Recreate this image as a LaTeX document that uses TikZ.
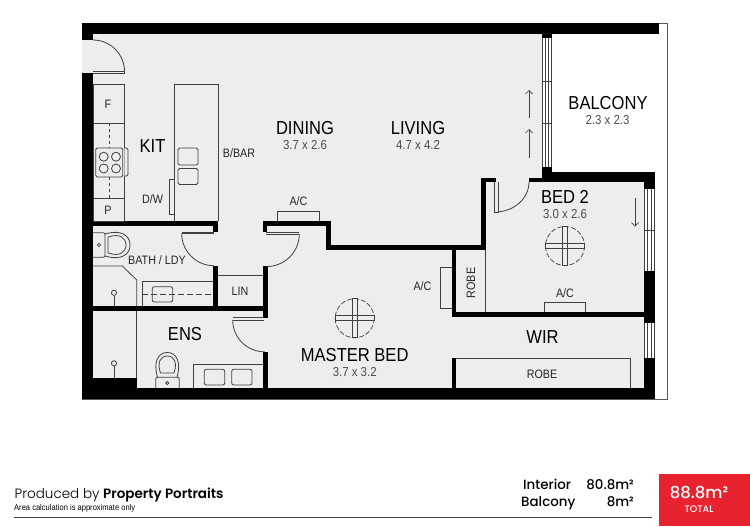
\documentclass[tikz,border=0pt]{standalone}
\usepackage{fontspec}
\usetikzlibrary{arrows.meta}
\setmainfont{Liberation Sans}[FakeStretch=0.88]
\newfontfamily\popl{Poppins Light}
\newfontfamily\popm{Poppins Medium}
\newfontfamily\pops{Poppins SemiBold}
\newfontfamily\narrow{Liberation Sans}[FakeStretch=0.9]
\definecolor{floorc}{gray}{0.93}
\definecolor{redc}{HTML}{E8222E}
\definecolor{linec}{gray}{0.25}
\tikzset{
  wall/.style={fill=black,draw=none},
  ln/.style={draw=linec,line width=0.8pt},
  room/.style={font=\fontsize{18.8}{18.8}\selectfont,inner sep=0pt,text=black},
  dim/.style={font=\fontsize{13}{13}\selectfont,inner sep=0pt,text=black!70},
  lab/.style={font=\fontsize{12.2}{12.2}\selectfont,inner sep=0pt,text=black!85},
  fanblade/.style={draw=linec,line width=0.7pt,fill=floorc},
}
\newcommand{\ceilfan}[3]{%
  \begin{scope}[shift={(#1,#2)}]
    \draw[draw=linec,line width=0.7pt,dash pattern=on 5pt off 2pt] (0,0) circle (19.5);
    \draw[fanblade] (-2.5,-19.5) rectangle (2.5,19.5);
    \draw[fanblade] (-19.5,-2.5) rectangle (19.5,2.5);
    \fill[floorc] (-2.3,-2.3) rectangle (2.3,2.3);
    \draw[fanblade] (-2.5,-2.5) rectangle (2.5,2.5);
    \node[inner sep=0pt,minimum size=0pt] (#3) at (0,0) {};
  \end{scope}}
\begin{document}
\begin{tikzpicture}[x=1pt,y=-1pt]
\useasboundingbox (0,0) rectangle (750,527);
% floors
\fill[floorc] (82,23) -- (542,23) -- (542,172) -- (655,172) -- (655,398) -- (82,398) -- cycle;
% outer thin border
\draw[draw=black!65,line width=0.6pt] (82,23.5) -- (667.7,23.5) -- (667.7,398.8) -- (82,398.8);
% outer walls
\fill[wall] (82,23.5) rectangle (659,34.3);
\fill[wall] (82,23.5) rectangle (93,40);
\fill[wall] (82,73) rectangle (93,398.5);
\fill[wall] (82,388) rectangle (655,398.5);
\fill[wall] (93,378) rectangle (136.7,388);
% living window
\fill[wall] (541.7,23.5) rectangle (551.7,38);
\fill[wall] (541.7,167) rectangle (551.7,182);
\fill[white] (541.7,38) rectangle (551.7,167);
\draw[ln] (541.9,38) -- (541.9,167) (545.3,38) -- (545.3,167) (548.7,38) -- (548.7,167) (551.5,38) -- (551.5,167);
\draw[ln] (541.7,81.7) -- (551.7,81.7) (541.7,123) -- (551.7,123);
% balcony / bed 2 wall
\fill[wall] (541.7,171.7) rectangle (655,182.3);
\fill[wall] (529,177.7) rectangle (542,182.3);
\fill[wall] (481,177.7) rectangle (496,182.3);
\fill[wall] (481,177.7) rectangle (486,250);
\fill[wall] (326,245) rectangle (486,250);
\fill[wall] (326,221) rectangle (331,250);
\fill[wall] (262.7,221) rectangle (331,226);
\fill[wall] (262.7,221) rectangle (267,232);
\fill[wall] (93,221) rectangle (218,226);
\fill[wall] (213.3,221) rectangle (218,232);
% right wall
\fill[wall] (644,171.7) rectangle (655,189);
\fill[wall] (644,271) rectangle (655,323);
\fill[wall] (644,358) rectangle (655,398.5);
\fill[white] (644,189) rectangle (655,271);
\fill[white] (644,323) rectangle (655,358);
\draw[ln] (644.2,189) -- (644.2,271) (647.8,189) -- (647.8,271) (651.2,189) -- (651.2,271) (654.8,189) -- (654.8,271);
\draw[ln] (644,230) -- (655,230);
\draw[ln] (644.2,323) -- (644.2,358) (647.8,323) -- (647.8,358) (651.2,323) -- (651.2,358) (654.8,323) -- (654.8,358);
% robes / inner walls
\fill[wall] (451.7,245) rectangle (456,317);
\fill[wall] (451.7,311.7) rectangle (655,317.3);
\fill[wall] (451.7,357.7) rectangle (456,388);
\fill[wall] (93,306) rectangle (268,311);
\fill[wall] (263.3,266) rectangle (268.3,318);
\fill[wall] (263.3,351.7) rectangle (268.3,388);
\fill[wall] (213.3,265.7) rectangle (218,306);
% kitchen
\draw[ln] (93,84) rectangle (124.3,221);
\draw[ln] (93,123) -- (124.3,123) (93,198) -- (124.3,198);
\draw[ln,dashed] (109,123) -- (109,198);
\draw[ln,fill=floorc,rounded corners=1.5pt] (124.3,148) -- (128,148) -- (128,176) -- (124.3,176);
\draw[ln,fill=floorc,rounded corners=1.5pt] (95.7,148) rectangle (122.7,177);
\foreach \cx/\cy in {103.7/156.7,116/156.7,103.7/168.5,116/168.5} \draw[ln] (\cx,\cy) circle (4.5);
\draw[ln] (174.7,221) -- (174.7,84) -- (218,84) -- (218,221);
\draw[ln,rounded corners=1.5pt] (178,148) rectangle (198,165);
\draw[ln,rounded corners=1.5pt] (178,168.5) rectangle (198,184.5);
\draw[ln] (174.7,179) -- (169.3,179) -- (169.3,214) -- (174.7,214);
% doors
\draw[ln] (93,40) arc[start angle=-90,end angle=0,radius=31.5];
\draw[ln,fill=floorc] (93,71) -- (124.5,71) -- (124.5,73.5) -- (93,73.5);
\draw[ln] (495,212) arc[start angle=90,end angle=0,x radius=34,y radius=30];
\draw[ln,fill=floorc] (498,182.3) -- (498,212) -- (494.6,212) -- (494.6,182.3);
\draw[ln] (181.7,233.5) arc[start angle=180,end angle=90,radius=32.2];
\draw[ln] (181.7,233.5) -- (213.5,233.5) (181.7,232) -- (213.5,232);
\draw[ln] (299.3,234) arc[start angle=0,end angle=90,radius=32.5];
\draw[ln] (266,234) -- (299.3,234) (266,232) -- (299.3,232);
\draw[ln] (232.7,320) arc[start angle=180,end angle=90,radius=31.8];
\draw[ln] (232.7,317.8) -- (263.5,317.8) (232.7,320) -- (263.5,320);
% bath
\draw[ln] (93,266) -- (122.3,266) -- (136.7,280) -- (136.7,306);
\draw[ln] (136.7,311) -- (136.7,378);
\draw[ln] (114,295.5) -- (114,306);
\draw[ln] (114,292.8) circle (2.6);
\draw[ln] (114,366) -- (114,378);
\draw[ln] (114,363.3) circle (2.6);
\draw[ln] (142.3,306) -- (142.3,281) -- (213.3,281);
\draw[ln,dash pattern=on 6pt off 3pt] (142.3,294) -- (213.3,294);
\draw[ln,rounded corners=2pt] (152.3,286.7) rectangle (172.7,302);
\draw[ln] (218,275) -- (263.3,275);
% bath toilet
\draw[ln,rounded corners=2pt] (93,232.7) -- (105,232.7) -- (105,257.3) -- (93,257.3);
\draw[ln] (105,234) .. controls (122,229) and (130,236) .. (130,245) .. controls (130,254) and (122,261) .. (105,256);
\draw[ln] (108,237) .. controls (120,233) and (126,238) .. (126,245) .. controls (126,252) and (120,257) .. (108,253) -- cycle;
\draw[ln] (99,245) circle (1.6);
% ens toilet
\draw[ln,rounded corners=2pt] (155.7,388) -- (155.7,377.3) -- (179.3,377.3) -- (179.3,388);
\draw[ln] (157.5,377.3) .. controls (153,362) and (158,352.5) .. (167.3,352.5) .. controls (176.5,352.5) and (181.5,362) .. (177,377.3);
\draw[ln] (160.5,373) .. controls (157,363) and (160,356) .. (167.3,356) .. controls (174.5,356) and (177.5,363) .. (174,373) -- cycle;
\draw[ln] (167.3,383) circle (1.6);
% vanity
\draw[ln] (193.3,388) -- (193.3,364) -- (263.3,364);
\draw[ln,rounded corners=2pt] (204.3,369.3) rectangle (224.7,385);
\draw[ln,rounded corners=2pt] (231.7,369.3) rectangle (252,385);
% robes lines
\draw[ln] (485.7,250) -- (485.7,312);
\draw[ln] (456,358.3) -- (630,358.3) -- (630,388);
% A/C units
\draw[ln] (277.7,221) -- (277.7,211.5) -- (319.3,211.5) -- (319.3,221);
\draw[ln] (451.7,267) -- (440.3,267) -- (440.3,308) -- (451.7,308);
\draw[ln] (544.3,312) -- (544.3,302.3) -- (585.3,302.3) -- (585.3,312);
% arrows
\draw[line width=0.7pt,draw=linec,-{Straight Barb[length=3.5pt,width=7pt]}] (529,118) -- (529,90);
\draw[line width=0.7pt,draw=linec,-{Straight Barb[length=3.5pt,width=7pt]}] (529,157.7) -- (529,129);
\draw[line width=0.7pt,draw=linec,-{Straight Barb[length=3.5pt,width=7pt]}] (635,198) -- (635,226.7);
% fans
\ceilfan{354.7}{318.3}{fanA}
\ceilfan{565}{246}{fanB}
% labels
\node[room] (kit) at (152.5,146) {KIT};
\node[room] (din) at (305,128) {DINING};
\node[dim]  (dind) at (305,145) {3.7 x 2.6};
\node[room] (liv) at (418,128) {LIVING};
\node[dim]  (livd) at (418,145) {4.7 x 4.2};
\node[room] (bal) at (608,103) {BALCONY};
\node[dim]  (bald) at (607.5,120) {2.3 x 2.3};
\node[room] (bed) at (565,197) {BED 2};
\node[dim]  (bedd) at (565,214) {3.0 x 2.6};
\node[room] (mas) at (354.7,355) {MASTER BED};
\node[dim]  (masd) at (354.7,372.5) {3.7 x 3.2};
\node[room] (wir) at (542.5,337) {WIR};
\node[room] (ens) at (185,334.5) {ENS};
\node[lab] (bbar) at (239,153) {B/BAR};
\node[lab] (dw) at (152.5,199) {D/W};
\node[lab] (f) at (108,104.5) {F};
\node[lab] (p) at (108,210) {P};
\node[lab] (ac1) at (298.5,201) {A/C};
\node[lab] (ac2) at (422.5,286.5) {A/C};
\node[lab] (ac3) at (565,293) {A/C};
\node[lab] (lin) at (240,291) {LIN};
\node[lab] (bath) at (157,260.5) {BATH / LDY};
\node[lab] (rb1) at (542,374) {ROBE};
\node[lab,rotate=90] (rb2) at (471,283) {ROBE};
% footer
\draw[draw=linec,line width=0.8pt] (14,517.3) -- (652,517.3);
\fill[redc] (659,474) rectangle (750,526);
\node[anchor=base west,inner sep=0pt,font=\fontsize{13.5}{13.5}\selectfont] (prod) at (14.5,498.5) {\popl Produced by \pops Property Portraits};
\node[anchor=base west,inner sep=0pt,font=\fontsize{8.4}{8.4}\selectfont\narrow] (area) at (14,510) {Area calculation is approximate only};
\node[anchor=base west,inner sep=0pt,font=\fontsize{13.4}{13.4}\selectfont\popm] (int) at (523,489) {Interior};
\node[anchor=base east,inner sep=0pt,font=\fontsize{13.4}{13.4}\selectfont\popm] (intv) at (634,489) {80.8m²};
\node[anchor=base west,inner sep=0pt,font=\fontsize{13.4}{13.4}\selectfont\popm] (balc) at (521,506) {Balcony};
\node[anchor=base east,inner sep=0pt,font=\fontsize{13.4}{13.4}\selectfont\popm] (balv) at (634,506) {8m²};
\node[inner sep=0pt,text=white,font=\fontsize{16.5}{16.5}\selectfont\popm] (tot) at (699,493) {88.8m²};
\node[inner sep=0pt,text=white,font=\fontsize{9.5}{9.5}\selectfont\popm] (totl) at (699,509.5) {TOTAL};
\end{tikzpicture}
\end{document}
